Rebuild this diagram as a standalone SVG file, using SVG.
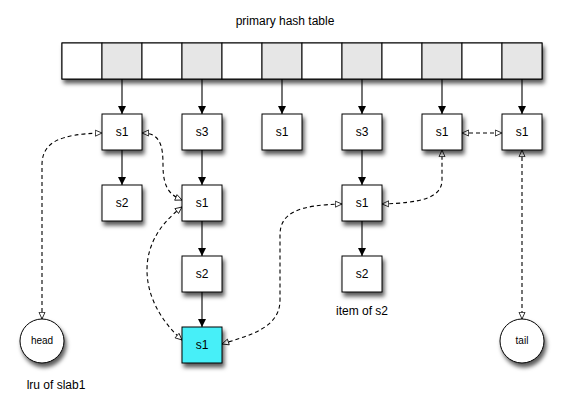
<svg xmlns="http://www.w3.org/2000/svg" width="564" height="405" viewBox="0 0 564 405">
<defs>
<filter id="sh" x="-30%" y="-30%" width="160%" height="170%">
<feDropShadow dx="2" dy="4" stdDeviation="2" flood-color="#000" flood-opacity="0.65"/>
</filter>
<marker id="solid" viewBox="0 0 10 10" refX="10" refY="5" markerWidth="8" markerHeight="9" markerUnits="userSpaceOnUse" orient="auto">
<path d="M0,0 L10,5 L0,10 z" fill="#000"/>
</marker>
<marker id="open" viewBox="0 0 12 12" refX="11" refY="6" markerWidth="8" markerHeight="8" markerUnits="userSpaceOnUse" orient="auto-start-reverse">
<path d="M1,1.5 L11,6 L1,10.5 z" fill="#fff" stroke="#000" stroke-width="1.2"/>
</marker>
</defs>
<style>
.box{fill:#fff;stroke:#000;stroke-width:1;filter:url(#sh)}
.cyan{fill:#46EFF8}
.cell{fill:#fff;stroke:#000;stroke-width:1}
.g{fill:#e6e6e6}
.lbl{font-family:"Liberation Sans",Arial,sans-serif;font-size:12px;text-anchor:middle;fill:#000}
.small{font-family:"Liberation Sans",Arial,sans-serif;font-size:10px;text-anchor:middle;fill:#000}
.cap{font-family:"Liberation Sans",Arial,sans-serif;font-size:12px;text-anchor:middle;fill:#000}
.sl{fill:none;stroke:#000;stroke-width:1.1;marker-end:url(#solid)}
.dl{fill:none;stroke:#000;stroke-width:1.1;stroke-dasharray:4,3;marker-start:url(#open);marker-end:url(#open)}
</style>
<rect width="564" height="405" fill="#fff"/>
<text class="cap" x="285" y="25">primary hash table</text>
<g id="hashtable">
<rect x="62" y="43" width="480" height="36" fill="#fff" stroke="#000" filter="url(#sh)"/>
<rect class="cell" x="62" y="43" width="40" height="36"/>
<rect class="cell g" x="102" y="43" width="40" height="36"/>
<rect class="cell" x="142" y="43" width="40" height="36"/>
<rect class="cell g" x="182" y="43" width="40" height="36"/>
<rect class="cell" x="222" y="43" width="40" height="36"/>
<rect class="cell g" x="262" y="43" width="40" height="36"/>
<rect class="cell" x="302" y="43" width="40" height="36"/>
<rect class="cell g" x="342" y="43" width="40" height="36"/>
<rect class="cell" x="382" y="43" width="40" height="36"/>
<rect class="cell g" x="422" y="43" width="40" height="36"/>
<rect class="cell" x="462" y="43" width="40" height="36"/>
<rect class="cell g" x="502" y="43" width="40" height="36"/>
</g>
<g id="connectors">
<path class="sl" d="M122,79 L122,114"/>
<path class="sl" d="M202,79 L202,114"/>
<path class="sl" d="M282,79 L282,114"/>
<path class="sl" d="M362,79 L362,114"/>
<path class="sl" d="M442,79 L442,114"/>
<path class="sl" d="M522,79 L522,114"/>
<path class="sl" d="M122,150 L122,185"/>
<path class="sl" d="M202,150 L202,185"/>
<path class="sl" d="M202,221 L202,256"/>
<path class="sl" d="M202,292 L202,327"/>
<path class="sl" d="M362,150 L362,185"/>
<path class="sl" d="M362,221 L362,256"/>
<path class="dl" d="M42,319 L42,165 C42,142 60,134 102,133"/>
<path class="dl" d="M142,133 C160,133 163,145 163,165 C163,188 170,195 182,200"/>
<path class="dl" d="M182,207 C165,220 147,240 147,270 C147,300 165,325 182,340"/>
<path class="dl" d="M222,344 C250,335 280,328 280,300 L280,235 C280,212 300,205 342,204"/>
<path class="dl" d="M382,204 C420,203 442,198 442,180 L442,150"/>
<path class="dl" d="M462,133 L502,133"/>
<path class="dl" d="M522,150 L522,319"/>
</g>
<g id="n1"><rect class="box" x="102" y="114" width="40" height="36"/><text class="lbl" x="122" y="136">s1</text></g>
<g id="n2"><rect class="box" x="182" y="114" width="40" height="36"/><text class="lbl" x="202" y="136">s3</text></g>
<g id="n3"><rect class="box" x="262" y="114" width="40" height="36"/><text class="lbl" x="282" y="136">s1</text></g>
<g id="n4"><rect class="box" x="342" y="114" width="40" height="36"/><text class="lbl" x="362" y="136">s3</text></g>
<g id="n5"><rect class="box" x="422" y="114" width="40" height="36"/><text class="lbl" x="442" y="136">s1</text></g>
<g id="n6"><rect class="box" x="502" y="114" width="40" height="36"/><text class="lbl" x="522" y="136">s1</text></g>
<g id="n7"><rect class="box" x="102" y="185" width="40" height="36"/><text class="lbl" x="122" y="207">s2</text></g>
<g id="n8"><rect class="box" x="182" y="185" width="40" height="36"/><text class="lbl" x="202" y="207">s1</text></g>
<g id="n9"><rect class="box" x="342" y="185" width="40" height="36"/><text class="lbl" x="362" y="207">s1</text></g>
<g id="n10"><rect class="box" x="182" y="256" width="40" height="36"/><text class="lbl" x="202" y="278">s2</text></g>
<g id="n11"><rect class="box" x="342" y="256" width="40" height="36"/><text class="lbl" x="362" y="278">s2</text></g>
<g id="n12"><rect class="box cyan" x="182" y="327" width="40" height="36"/><text class="lbl" x="202" y="349">s1</text></g>
<g id="head"><circle class="box" cx="42" cy="341" r="22"/><text class="small" x="42" y="344">head</text></g>
<g id="tail"><circle class="box" cx="522" cy="341" r="22"/><text class="small" x="522" y="344">tail</text></g>
<text class="cap" x="362" y="315">item of s2</text>
<text class="cap" x="56" y="389">lru of slab1</text>
</svg>
